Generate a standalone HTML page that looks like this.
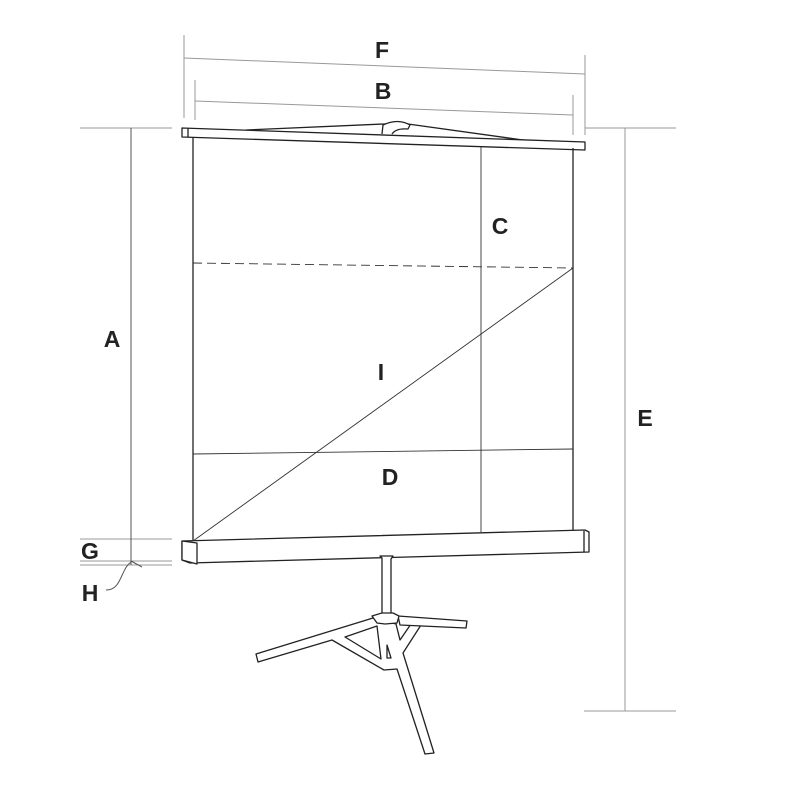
<!DOCTYPE html>
<html><head><style>body{margin:0;background:#fff}svg{display:block}text{font-family:"Liberation Sans",sans-serif;font-weight:bold;font-size:23px;fill:#222;text-anchor:middle}</style></head>
<body><svg width="800" height="800" viewBox="0 0 800 800">
<g stroke="#999" stroke-width="1" fill="none">
<line x1="184" y1="35" x2="184" y2="118"/><line x1="585" y1="55" x2="585" y2="135"/>
<line x1="184" y1="58" x2="585" y2="74"/>
<line x1="195" y1="80" x2="195" y2="120"/><line x1="573" y1="95" x2="573" y2="135"/>
<line x1="195" y1="101" x2="573" y2="115"/>
<line x1="80" y1="128" x2="172" y2="128"/><line x1="585" y1="128" x2="676" y2="128"/>
<line x1="584" y1="711" x2="676" y2="711"/>
<line x1="625" y1="128" x2="625" y2="711"/>
<line x1="80" y1="539" x2="172" y2="539"/><line x1="80" y1="561" x2="172" y2="561"/><line x1="80" y1="565" x2="172" y2="565"/>
</g>
<g stroke="#555" stroke-width="1" fill="none">
<line x1="131" y1="128" x2="131" y2="565"/>
<path d="M131 561 L142 567 M131 562 C120 570 122 590 106 590"/>
</g>
<g stroke="#222" stroke-width="1.3" fill="#fff" stroke-linejoin="round">
<path d="M246 130 L384 124 L408 124 L530 141"/>
<path d="M382 134 L383 125 Q398 118 410 125 L408 129 Q396 128 392 134"/>
<polygon points="182,128 585,142 585,150 182,137"/>
<line x1="188" y1="128" x2="188" y2="137"/>
<line x1="193" y1="137" x2="193" y2="541"/><line x1="573" y1="148" x2="573" y2="531"/>
<polygon points="182,541 585,530 589,532 589,552 190,563 182,560"/>
<polygon points="182,541 197,543 197,564 182,560" />
<line x1="584" y1="531" x2="584" y2="552"/>
</g>
<g stroke="#333" stroke-width="0.9" fill="none">
<line x1="193" y1="263" x2="573" y2="268" stroke-dasharray="9,5"/>
<line x1="481" y1="147" x2="481" y2="532"/>
<line x1="193" y1="454" x2="573" y2="449"/>
<line x1="193" y1="541" x2="573" y2="268"/>
</g>
<g stroke="#222" stroke-width="1.3" fill="#fff" stroke-linejoin="round">
<polygon points="373,618 256,654 258,662 332,640 384,670 397,669 425,754 434,753 403,653 421,625 411,624 400,640 396,624"/>
<polygon points="345,637 381,659 377,626"/>
<polygon points="398,616 467,621 466,628 400,625"/>
<polygon points="380,556 393,556 391,559 391,614 382,614 382,558"/>
<polygon points="372,616 382,613 393,613 399,616 397,623 385,624 377,623"/>
<polygon points="387,645 391,658 387,658"/>
</g>
<text x="382" y="58">F</text><text x="383" y="99">B</text><text x="500" y="234">C</text>
<text x="112" y="347">A</text><text x="381" y="380">I</text><text x="390" y="485">D</text>
<text x="645" y="426">E</text><text x="90" y="559">G</text><text x="90" y="601">H</text>
</svg></body></html>
